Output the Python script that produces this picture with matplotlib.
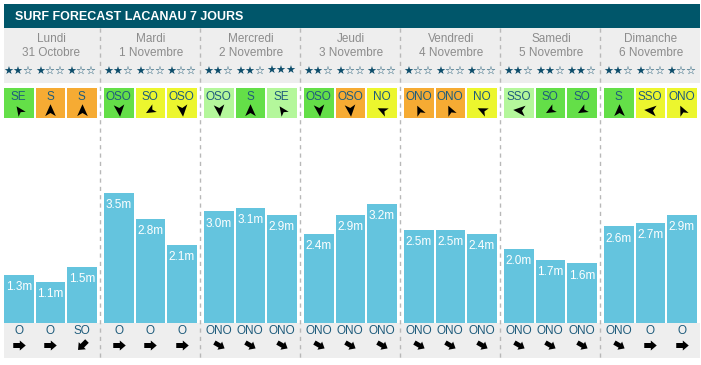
import numpy as np
import matplotlib
matplotlib.use('Agg')
import matplotlib.pyplot as plt
from matplotlib.path import Path
from matplotlib.patches import Rectangle

plt.rcParams['font.family'] = ['Liberation Sans', 'DejaVu Sans']

# données
titre = "SURF FORECAST LACANAU 7 JOURS"
jours = ["Lundi", "Mardi", "Mercredi", "Jeudi", "Vendredi", "Samedi", "Dimanche"]
dates = ["31 Octobre", "1 Novembre", "2 Novembre", "3 Novembre",
         "4 Novembre", "5 Novembre", "6 Novembre"]
hauteurs = [1.3, 1.1, 1.5, 3.5, 2.8, 2.1, 3.0, 3.1, 2.9, 2.4, 2.9, 3.2,
            2.5, 2.5, 2.4, 2.0, 1.7, 1.6, 2.6, 2.7, 2.9]
etoiles = [2, 1, 1, 2, 1, 1, 2, 2, 3, 2, 1, 1, 1, 1, 1, 2, 2, 2, 2, 1, 1]
vent = ["SE", "S", "S", "OSO", "SO", "OSO", "OSO", "S", "SE", "OSO", "OSO", "NO",
        "ONO", "ONO", "NO", "SSO", "SO", "SO", "S", "SSO", "ONO"]
vent_qualite = ["vert", "orange", "orange", "vert", "jaune", "jaune",
                "vert_clair", "vert", "vert_clair", "vert", "orange", "jaune",
                "orange", "orange", "jaune", "vert_clair", "vert", "vert",
                "vert", "jaune", "jaune"]
houle = ["O", "O", "SO", "O", "O", "O", "ONO", "ONO", "ONO", "ONO", "ONO", "ONO",
         "ONO", "ONO", "ONO", "ONO", "ONO", "ONO", "ONO", "O", "O"]

couleurs_vent = {"vert": "#64df48", "orange": "#f6ab33", "jaune": "#ecf62e",
                 "vert_clair": "#b4f79b"}
# orientation visuelle des flèches (degrés, 0 = droite, sens trigo)
angle_vent = {"S": 90, "SE": 125, "OSO": -85, "SO": 210, "SSO": 175,
              "NO": 155, "ONO": 115}
angle_houle = {"O": 0, "ONO": -30, "SO": 225}

W, H = 701, 365
DAY_W = 100
PITCH = 31.5
BAR_W = 29.5
BASE_Y = 323
PX_PER_M = 37.2
TEAL = "#00566a"
GRIS = "#eeeeee"
BLEU_TXT = "#1f5c7c"

# flèche de navigation (pointe vers la droite) et grosse flèche de houle
nav_arrow = np.array([(1, 0), (-0.9, 0.85), (-0.4, 0), (-0.9, -0.85), (1, 0)])
fat_arrow = np.array([(-1, -0.4), (0.05, -0.4), (0.05, -0.8), (1, 0),
                      (0.05, 0.8), (0.05, 0.4), (-1, 0.4), (-1, -0.4)])


def rot_marker(verts, deg):
    t = np.deg2rad(deg)
    r = np.array([[np.cos(t), -np.sin(t)], [np.sin(t), np.cos(t)]])
    return Path(verts @ r.T, closed=True)


fig = plt.figure(figsize=(W / 100, H / 100), dpi=100)
ax = fig.add_axes([0, 0, 1, 1])
ax.set_xlim(0, W)
ax.set_ylim(H, 0)
ax.axis('off')

n = len(hauteurs)
x_left = np.array([DAY_W * (k // 3) + 4 + PITCH * (k % 3) for k in range(n)])
x_mid = x_left + BAR_W / 2

# bandeau titre
ax.add_patch(Rectangle((4, 4), W - 5, 24, color=TEAL, lw=0))
ax.text(15, 16.5, titre, color="white", fontsize=9, fontweight="bold",
        va="center", ha="left")

# bandes grises
ax.add_patch(Rectangle((4, 28), W - 5, 55, color=GRIS, lw=0))
ax.add_patch(Rectangle((4, BASE_Y), W - 5, 35, color=GRIS, lw=0))

for i, (j, d) in enumerate(zip(jours, dates)):
    cx = DAY_W * i + 51
    ax.text(cx, 39.5, j, ha="center", va="center", fontsize=8.5, color="#8c8c8c")
    ax.text(cx, 52.5, d, ha="center", va="center", fontsize=8.5, color="#8c8c8c")
    if i > 0:
        ax.plot([DAY_W * i, DAY_W * i], [28, 358], color="#b8b8b8", lw=1,
                ls=(0, (3, 3)))

for k in range(n):
    s = "★" * etoiles[k] + "☆" * (3 - etoiles[k])
    ax.text(x_mid[k], 71, s, ha="center", va="center", fontsize=8,
            color="#0d4d6b", family="DejaVu Sans")
    ax.add_patch(Rectangle((x_left[k], 88), BAR_W, 30,
                           color=couleurs_vent[vent_qualite[k]], lw=0))
    ax.text(x_mid[k], 96.5, vent[k], ha="center", va="center", fontsize=8.5,
            color=BLEU_TXT)
    ax.plot(x_mid[k], 110, marker=rot_marker(nav_arrow, angle_vent[vent[k]]),
            color="black", markersize=9, mew=0)
    ax.text(x_mid[k], 331.5, houle[k], ha="center", va="center", fontsize=8.5,
            color=BLEU_TXT)
    ax.plot(x_mid[k], 345, marker=rot_marker(fat_arrow, angle_houle[houle[k]]),
            color="black", markersize=9, mew=0)

# histogramme des hauteurs (en mètres)
top_px = 120
ax_bar = fig.add_axes([0, (H - BASE_Y) / H, 1, (BASE_Y - top_px) / H])
ax_bar.set_xlim(0, W)
ax_bar.set_ylim(0, (BASE_Y - top_px) / PX_PER_M)
ax_bar.axis('off')
ax_bar.patch.set_alpha(0)
ax_bar.bar(x_left, hauteurs, width=BAR_W, align="edge", color="#64c4de", lw=0)
for xm, h in zip(x_mid, hauteurs):
    ax_bar.annotate(f"{h:.1f}m", (xm, h), xytext=(0, -4.5),
                    textcoords="offset points", ha="center", va="top",
                    fontsize=8.5, color="white")

fig.savefig("out.png", dpi=100)
